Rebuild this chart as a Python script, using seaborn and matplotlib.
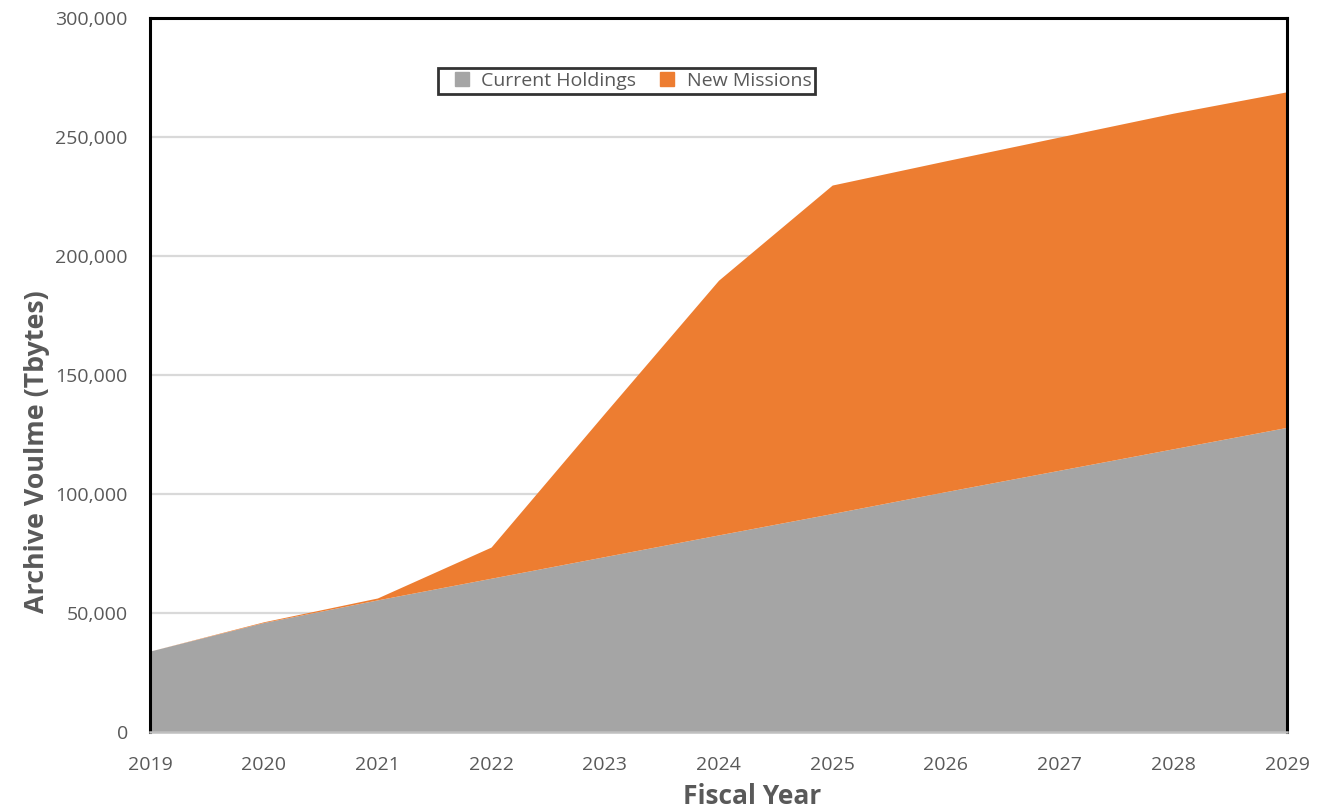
import matplotlib
matplotlib.use("Agg")
import matplotlib.pyplot as plt
import seaborn as sns
import pandas as pd
from matplotlib.lines import Line2D
from matplotlib.ticker import FuncFormatter, MultipleLocator

# Archive volume by fiscal year (Tbytes)
years = [2019, 2020, 2021, 2022, 2023, 2024, 2025, 2026, 2027, 2028, 2029]
current_holdings = [34000, 46000, 55500, 64600, 73700, 82800, 91800, 101000, 110000, 119000, 128000]
new_missions = [0, 300, 800, 13100, 60300, 107000, 138000, 139000, 140000, 141000, 141000]
series_names = ["Current Holdings", "New Missions"]
series_colors = ["#A5A5A5", "#ED7D31"]

df = pd.DataFrame({"Fiscal Year": years,
                   series_names[0]: current_holdings,
                   series_names[1]: new_missions})

sns.set_theme(style="white")
plt.rcParams["font.family"] = ["Open Sans", "DejaVu Sans"]

fig = plt.figure(figsize=(13.38, 8.09), dpi=100)
ax = fig.add_axes([0.1121, 0.0952, 0.8498, 0.8826])

ax.stackplot(df["Fiscal Year"], df[series_names[0]], df[series_names[1]],
             colors=series_colors, linewidth=0, zorder=2)

ax.set_xlim(2019, 2029)
ax.set_ylim(0, 300000)
ax.xaxis.set_major_locator(MultipleLocator(1))
ax.yaxis.set_major_locator(MultipleLocator(50000))
ax.yaxis.set_major_formatter(FuncFormatter(lambda v, p: f"{int(v):,}"))

ax.grid(axis="y", color="#D9D9D9", linewidth=1.6, zorder=0)
ax.set_axisbelow(True)

for side in ["left", "top", "right"]:
    ax.spines[side].set_color("black")
    ax.spines[side].set_linewidth(2.2)
    ax.spines[side].set_visible(True)
ax.spines["bottom"].set_color("#BFBFBF")
ax.spines["bottom"].set_linewidth(1.8)
ax.spines["bottom"].set_visible(True)

ax.tick_params(axis="both", length=0, labelsize=14, labelcolor="#595959")
ax.tick_params(axis="y", pad=16)
ax.tick_params(axis="x", pad=17)

ax.set_xlabel("Fiscal Year", fontsize=19, fontweight="bold", color="#595959")
ax.xaxis.set_label_coords(0.5295, -0.071)
ax.set_ylabel("Archive Voulme (Tbytes)", fontsize=19.3, fontweight="bold", color="#595959")
ax.yaxis.label.set_verticalalignment("center")
ax.yaxis.set_label_coords(-0.0994, 0.392)

handles = [Line2D([], [], marker="s", linestyle="none", markersize=10,
                  markerfacecolor=c, markeredgecolor=c) for c in series_colors]
leg = ax.legend(handles, series_names, loc="center", bbox_to_anchor=(0.4195, 0.912),
                ncol=2, fontsize=14, frameon=True, fancybox=False,
                handletextpad=0.0, columnspacing=0.6, borderpad=0.2,
                labelcolor="#595959")
leg.get_frame().set_edgecolor("black")
leg.get_frame().set_linewidth(2)

fig.savefig("out.png", dpi=100, facecolor="white")
